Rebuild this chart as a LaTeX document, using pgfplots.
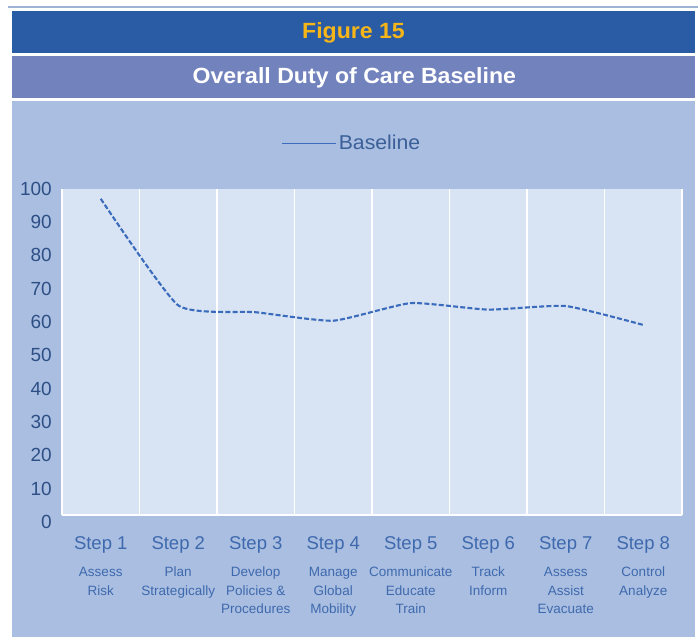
\documentclass[border=0pt]{standalone}
\usepackage{fontspec}
\setmainfont{Liberation Sans}
\newfontfamily\titlefont[FakeStretch=1.05]{Liberation Sans}
\newfontfamily\legfont[FakeStretch=1.06]{Liberation Sans}
\usepackage{pgfplots}
\pgfplotsset{compat=1.18}
\definecolor{hdrblue}{HTML}{2A5BA5}
\definecolor{hdrpurple}{HTML}{7282BC}
\definecolor{panel}{HTML}{A9BEE0}
\definecolor{plotbg}{HTML}{D8E4F3}
\definecolor{figyellow}{HTML}{F6B519}
\definecolor{linecol}{HTML}{3A6BBD}
\definecolor{ytickcol}{HTML}{2D4F86}
\definecolor{xtickcol}{HTML}{3F69AE}
\definecolor{legcol}{HTML}{3B5F98}
\definecolor{topline}{HTML}{9FB3D6}
\newcommand\stp{\fontsize{18.5}{22}\selectfont}
\begin{document}
\begin{tikzpicture}
\useasboundingbox (0pt,0pt) rectangle (698pt,637pt);
\fill[white] (0pt,0pt) rectangle (698pt,637pt);
\draw[topline, line width=1.2pt] (8pt,630pt) -- (698pt,630pt);
\fill[hdrblue] (12pt,584.3pt) rectangle (695pt,626pt);
\fill[hdrpurple] (12pt,539.3pt) rectangle (695pt,581pt);
\fill[panel] (12pt,0pt) rectangle (695pt,536.3pt);
\node[anchor=base, inner sep=0pt, text=figyellow, font=\titlefont\bfseries\fontsize{22}{26}\selectfont] at (353.5pt,598.7pt) {Figure 15};
\node[anchor=base, inner sep=0pt, text=white, font=\titlefont\bfseries\fontsize{22}{26}\selectfont] at (354.3pt,553.7pt) {Overall Duty of Care Baseline};

% y tick labels axis
\begin{axis}[at={(62pt,115pt)}, anchor=south west, scale only axis,
  width=620pt, height=333.3pt,
  xmin=0, xmax=1, ymin=0, ymax=100,
  axis line style={draw=none},
  xtick=\empty, ytick={0,10,...,100},
  major tick length=0pt,
  yticklabel style={anchor=east, inner sep=0pt, xshift=-10pt, text=ytickcol, font=\fontsize{19}{22}\selectfont},
  /pgf/number format/assume math mode=true]
\end{axis}

\begin{axis}[at={(62pt,122pt)}, anchor=south west, scale only axis,
  width=620pt, height=326pt,
  xmin=0.5, xmax=8.5, ymin=0, ymax=100,
  axis background/.style={fill=plotbg},
  axis line style={draw=none},
  xtick={1,...,8},
  xticklabels={
    {{\stp Step 1}\\[8.8pt]Assess\\Risk},
    {{\stp Step 2}\\[8.8pt]Plan\\Strategically},
    {{\stp Step 3}\\[8.8pt]Develop\\Policies \&\\Procedures},
    {{\stp Step 4}\\[8.8pt]Manage\\Global\\Mobility},
    {{\stp Step 5}\\[8.8pt]Communicate\\Educate\\Train},
    {{\stp Step 6}\\[8.8pt]Track\\Inform},
    {{\stp Step 7}\\[8.8pt]Assess\\Assist\\Evacuate},
    {{\stp Step 8}\\[8.8pt]Control\\Analyze}},
  ytick=\empty,
  major tick length=0pt, minor tick length=0pt,
  minor xtick={0.5,1.5,...,8.5},
  xminorgrids,
  minor grid style={white, line width=1.5pt},
  extra y ticks={0}, extra y tick labels={},
  extra y tick style={grid=major, major grid style={white, line width=1.5pt}},
  xticklabel style={anchor=north, inner sep=0pt, yshift=-21pt, align=center, text=xtickcol, font=\fontsize{13.5}{18.6}\selectfont},
  legend style={at={(0.3544,1.140)}, anchor=west, draw=none, fill=none, inner sep=0pt,
    font=\legfont\fontsize{20}{24}\selectfont, text=legcol},
  legend image code/.code={\draw[solid, line width=0.9pt, linecol] (0pt,0pt) -- (54pt,0pt);},
]
\addplot[linecol, line width=2.1pt, dash pattern=on 5pt off 2.2pt, smooth, tension=0.3]
  coordinates {(1,97)(2,64.3)(3,62.2)(4,59.6)(5,65.0)(6,63.0)(7,64.1)(8,58.3)};
\addlegendentry{Baseline}
\end{axis}
\end{tikzpicture}
\end{document}
